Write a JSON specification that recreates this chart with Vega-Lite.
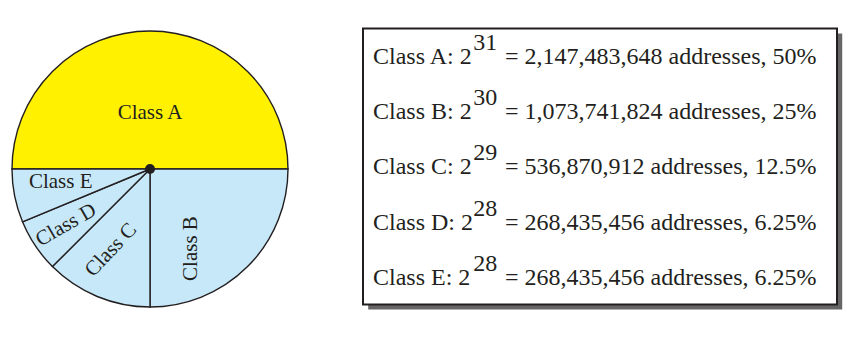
{
  "$schema": "https://vega.github.io/schema/vega-lite/v6.json",
  "padding": 0,
  "background": "white",
  "config": {"view": {"stroke": null}, "text": {"font": "Liberation Serif"}},
  "center": true,
  "spacing": 62,
  "hconcat": [
    {
      "width": 300,
      "height": 338,
      "data": {"values": [
        {"cls": "Class A", "share": 50},
        {"cls": "Class B", "share": 25},
        {"cls": "Class C", "share": 12.5},
        {"cls": "Class D", "share": 6.25},
        {"cls": "Class E", "share": 6.25}
      ]},
      "layer": [
        {
          "mark": {"type": "arc", "outerRadius": 138, "stroke": "#231f20", "strokeWidth": 1.4},
          "encoding": {
            "theta": {"field": "share", "type": "quantitative", "stack": true, "scale": {"range": [-1.5707963, 4.712389]}},
            "order": {"field": "cls", "type": "ordinal", "sort": "ascending"},
            "color": {"field": "cls", "type": "nominal", "legend": null,
              "scale": {"domain": ["Class A", "Class B", "Class C", "Class D", "Class E"],
                        "range": ["#FFF100", "#C7E8F9", "#C7E8F9", "#C7E8F9", "#C7E8F9"]}}
          }
        },
        {
          "mark": {
            "type": "text", "fontSize": 21, "align": "center", "baseline": "middle",
            "radius": {"expr": "datum.cls==='Class A'?56.5:datum.cls==='Class B'?58:datum.cls==='Class C'?90:datum.cls==='Class D'?101:91"},
            "angle": {"expr": "datum.cls==='Class B'?270:datum.cls==='Class C'?313:datum.cls==='Class D'?330:0"},
            "dx": {"expr": "datum.cls==='Class B'?-38.5:datum.cls==='Class C'?-1.6:0"},
            "dy": {"expr": "datum.cls==='Class C'?-4.8:datum.cls==='Class E'?-5:0"}
          },
          "encoding": {
            "theta": {"field": "share", "type": "quantitative", "stack": true, "scale": {"range": [-1.5707963, 4.712389]}},
            "order": {"field": "cls", "type": "ordinal", "sort": "ascending"},
            "detail": {"field": "cls", "type": "nominal"},
            "text": {"field": "cls", "type": "nominal"},
            "color": {"value": "#231f20"}
          }
        },
        {
          "data": {"values": [{"name": "center"}]},
          "mark": {"type": "circle", "size": 100, "opacity": 1, "color": "#231f20"},
          "encoding": {}
        }
      ]
    },
    {
      "width": 474,
      "height": 276,
      "data": {"values": [
        {"cls": "Class A", "pre": "Class A: 2", "exp": "31", "post": "= 2,147,483,648 addresses, 50%"},
        {"cls": "Class B", "pre": "Class B: 2", "exp": "30", "post": "= 1,073,741,824 addresses, 25%"},
        {"cls": "Class C", "pre": "Class C: 2", "exp": "29", "post": "= 536,870,912 addresses, 12.5%"},
        {"cls": "Class D", "pre": "Class D: 2", "exp": "28", "post": "= 268,435,456 addresses, 6.25%"},
        {"cls": "Class E", "pre": "Class E: 2", "exp": "28", "post": "= 268,435,456 addresses, 6.25%"}
      ]},
      "resolve": {"scale": {"y": "independent"}},
      "layer": [
        {
          "data": {"values": [{"frame": "shadow"}]},
          "mark": {"type": "rect", "fill": "#666666"},
          "encoding": {
            "x": {"datum": 0.011, "type": "quantitative", "scale": {"domain": [0, 1], "nice": false, "zero": false}, "axis": null},
            "x2": {"datum": 1.011},
            "y": {"datum": -0.019, "type": "quantitative", "scale": {"domain": [0, 1], "nice": false, "zero": false}, "axis": null},
            "y2": {"datum": 0.981}
          }
        },
        {
          "data": {"values": [{"frame": "box"}]},
          "mark": {"type": "rect", "fill": "white", "stroke": "#231f20", "strokeWidth": 2},
          "encoding": {
            "x": {"datum": 0, "type": "quantitative", "scale": {"domain": [0, 1], "nice": false, "zero": false}, "axis": null},
            "x2": {"datum": 1},
            "y": {"datum": 0, "type": "quantitative", "scale": {"domain": [0, 1], "nice": false, "zero": false}, "axis": null},
            "y2": {"datum": 1}
          }
        },
        {
          "encoding": {
            "y": {"field": "cls", "type": "nominal", "axis": null,
                  "scale": {"type": "point", "domain": ["Class A", "Class B", "Class C", "Class D", "Class E"], "padding": 0.5}}
          },
          "layer": [
            {
              "mark": {"type": "text", "fontSize": 24, "align": "left", "baseline": "alphabetic", "dy": 8, "color": "#231f20"},
              "encoding": {
                "x": {"datum": 0.0211, "type": "quantitative"},
                "text": {"field": "pre", "type": "nominal"}
              }
            },
            {
              "mark": {"type": "text", "fontSize": 24, "align": "left", "baseline": "alphabetic", "dy": -6, "color": "#231f20"},
              "encoding": {
                "x": {"datum": 0.2325, "type": "quantitative"},
                "text": {"field": "exp", "type": "nominal"}
              }
            },
            {
              "mark": {"type": "text", "fontSize": 24, "align": "left", "baseline": "alphabetic", "dy": 8, "color": "#231f20"},
              "encoding": {
                "x": {"datum": 0.2996, "type": "quantitative"},
                "text": {"field": "post", "type": "nominal"}
              }
            }
          ]
        }
      ]
    }
  ]
}
